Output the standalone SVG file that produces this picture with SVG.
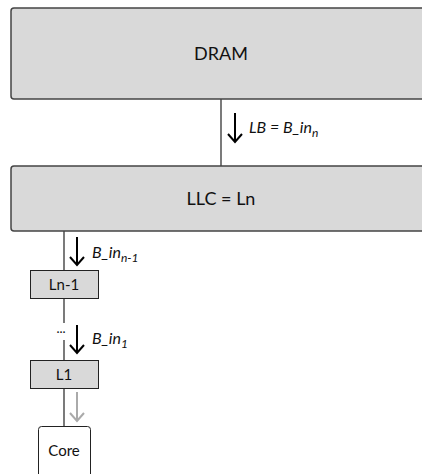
<svg xmlns="http://www.w3.org/2000/svg" width="422" height="474" viewBox="0 0 422 474">
<style>
.big{fill:#d9d9d9;stroke:#444;stroke-width:1.5}
.small{fill:#d9d9d9;stroke:#222;stroke-width:1}
.core{fill:#fff;stroke:#222;stroke-width:1}
.t{font-family:Lato,"Open Sans",sans-serif;fill:#111;text-anchor:middle}
.lbl{font-family:Lato,"Open Sans",sans-serif;font-style:italic;fill:#111;font-size:16px}
.sub{font-size:12px}
.ln{stroke:#222;stroke-width:1.2;fill:none}
.arr{stroke:#000;stroke-width:2;fill:none}
.garr{stroke:#aaa;stroke-width:2;fill:none}
</style>
<g id="connectors">
<line class="ln" x1="221" y1="99" x2="221" y2="166"/>
<line class="ln" x1="64" y1="231" x2="64" y2="270"/>
<line class="ln" x1="64" y1="299" x2="64" y2="323"/>
<line class="ln" x1="64" y1="340" x2="64" y2="360"/>
<line class="ln" x1="64" y1="389" x2="64" y2="426"/>
<text x="61" y="333" style="font-family:Lato,sans-serif;font-size:13px;fill:#111" text-anchor="middle">...</text>
<path class="arr" d="M235 113V142M228 134L235 142L242 134"/>
<text class="lbl" x="249" y="133">LB = B_in<tspan class="sub" dy="4">n</tspan></text>
<path class="arr" d="M77 237V265M70 257L77 265L84 257"/>
<text class="lbl" x="92" y="258">B_in<tspan class="sub" dy="4">n-1</tspan></text>
<path class="arr" d="M77 325V353M70 345L77 353L84 345"/>
<text class="lbl" x="92" y="344">B_in<tspan class="sub" dy="4">1</tspan></text>
<path class="garr" d="M77 392V421M70 413L77 421L84 413"/>
</g>
<g id="dram">
<rect class="big" x="11" y="8" width="420" height="91" rx="3"/>
<text class="t" x="221" y="60" font-size="18">DRAM</text>
</g>
<g id="llc">
<rect class="big" x="11" y="166" width="420" height="65" rx="3"/>
<text class="t" x="221" y="205" font-size="18">LLC = Ln</text>
</g>
<g id="ln1">
<rect class="small" x="30.5" y="270.5" width="68" height="28"/>
<text class="t" x="64" y="290" font-size="15">Ln-1</text>
</g>
<g id="l1">
<rect class="small" x="30.5" y="360.5" width="68" height="28"/>
<text class="t" x="64" y="380" font-size="15">L1</text>
</g>
<g id="core">
<rect class="core" x="38.5" y="426.5" width="52" height="60" rx="3"/>
<text class="t" x="64" y="456" font-size="15">Core</text>
</g>
</svg>
